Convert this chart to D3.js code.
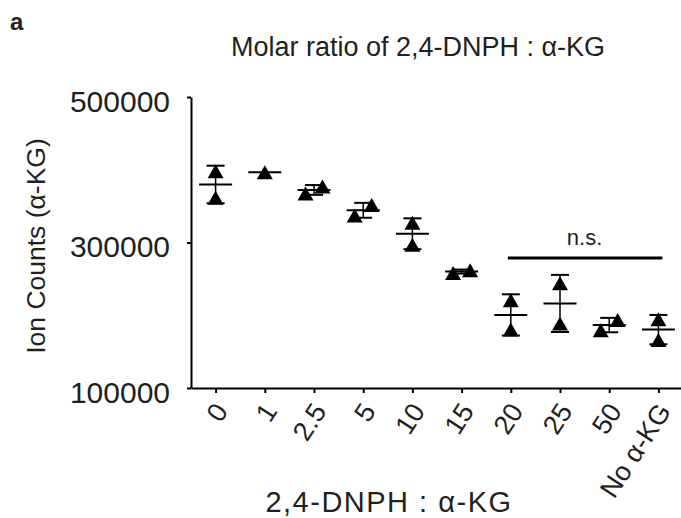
<!DOCTYPE html>
<html>
<head>
<meta charset="utf-8">
<script src="https://cdn.jsdelivr.net/npm/d3@7"></script>
<style>
  body { margin: 0; background: #fff; }
  text { font-family: "Liberation Sans", Arial, sans-serif; fill: #231f20; }
</style>
</head>
<body>
<div id="chart"></div>
<script>
// ratio categories and the two replicate ion counts (null = missing)
var categories = ["0", "1", "2.5", "5", "10", "15", "20", "25", "50", "No α-KG"];
var rep1 = [398000, 396500, 377000, 351500, 327000, 262000, 220500, 244000, 193500, 194500];
var rep2 = [361500, null, 367500, 337000, 297000, 258000, 180500, 188500, 179500, 166000];
var yTicks = [100000, 300000, 500000];
var nsFrom = "20", nsTo = "No α-KG";

var w = 681, h = 518;

var svg = d3.select("#chart").append("svg")
  .attr("width", w)
  .attr("height", h);

var x = d3.scalePoint()
  .domain(categories)
  .range([191, 683])
  .padding(0.5);

var y = d3.scaleLinear()
  .domain([100000, 500000])
  .range([388, 97]);

// build groups of replicate values
var groups = categories.map(function(c, i) {
  var vals = [rep1[i], rep2[i]].filter(function(v) { return v != null; });
  return { cat: c, vals: vals, mean: d3.mean(vals), sd: d3.deviation(vals) };
});

// axes
var yAxis = svg.append("g")
  .attr("transform", "translate(191,0)")
  .call(d3.axisLeft(y).tickValues(yTicks).tickSize(4).tickSizeOuter(0).tickPadding(17).tickFormat(d3.format("d")));
yAxis.select(".domain").attr("stroke", "#000").attr("stroke-width", 2);
yAxis.selectAll(".tick line").attr("stroke", "#000").attr("stroke-width", 2);
yAxis.selectAll(".tick text")
  .attr("font-size", 30)
  .attr("font-family", null)
  .attr("dy", "0.48em")
  .attr("fill", "#231f20");

var xAxis = svg.append("g")
  .attr("transform", "translate(0,388)")
  .call(d3.axisBottom(x).tickSize(5).tickSizeOuter(0));
xAxis.select(".domain").attr("stroke", "#000").attr("stroke-width", 2);
xAxis.selectAll(".tick line").attr("stroke", "#000").attr("stroke-width", 2);
xAxis.selectAll(".tick text")
  .attr("font-size", 27)
  .attr("font-family", null)
  .attr("fill", "#231f20")
  .attr("text-anchor", "end")
  .attr("dy", "0.35em")
  .attr("transform", "translate(5,18) rotate(-57)")
  .attr("x", 0)
  .attr("y", 0);

// mean and SD
var g = svg.selectAll("g.grp")
  .data(groups)
  .enter()
  .append("g")
  .attr("class", "grp")
  .attr("transform", function(d) { return "translate(" + x(d.cat) + ",0)"; });

g.append("line")
  .attr("x1", -16.5).attr("x2", 16.5)
  .attr("y1", function(d) { return y(d.mean); })
  .attr("y2", function(d) { return y(d.mean); })
  .attr("stroke", "#000").attr("stroke-width", 2);

var eb = g.filter(function(d) { return d.sd != null; });
eb.append("line")
  .attr("x1", 0).attr("x2", 0)
  .attr("y1", function(d) { return y(d.mean + d.sd); })
  .attr("y2", function(d) { return y(d.mean - d.sd); })
  .attr("stroke", "#000").attr("stroke-width", 1.5);
eb.selectAll("line.cap")
  .data(function(d) { return [d.mean + d.sd, d.mean - d.sd]; })
  .enter()
  .append("line")
  .attr("class", "cap")
  .attr("x1", -9).attr("x2", 9)
  .attr("y1", function(v) { return y(v); })
  .attr("y2", function(v) { return y(v); })
  .attr("stroke", "#000").attr("stroke-width", 2);

// points, jittered sideways when they overlap
var tri = "M0,-7L8,7L-8,7Z";
g.selectAll("path.pt")
  .data(function(d) {
    var s = d.vals.slice().sort(d3.ascending);
    var overlap = s.length > 1 && Math.abs(y(s[0]) - y(s[1])) < 14;
    return s.map(function(v, k) {
      return { v: v, dx: overlap ? (k === 0 ? -8.5 : 8.5) : 0 };
    });
  })
  .enter()
  .append("path")
  .attr("class", "pt")
  .attr("d", tri)
  .attr("fill", "#000")
  .attr("transform", function(p) { return "translate(" + p.dx + "," + y(p.v) + ")"; });

// significance bar
svg.append("line")
  .attr("x1", x(nsFrom) - 3).attr("x2", x(nsTo) + 4)
  .attr("y1", 258).attr("y2", 258)
  .attr("stroke", "#000").attr("stroke-width", 3);
svg.append("text")
  .attr("x", (x(nsFrom) + x(nsTo)) / 2)
  .attr("y", 245)
  .attr("text-anchor", "middle")
  .attr("font-size", 22)
  .text("n.s.");

// titles
svg.append("text")
  .attr("x", 10).attr("y", 30)
  .attr("font-size", 24)
  .attr("font-weight", "bold")
  .text("a");

svg.append("text")
  .attr("x", 418).attr("y", 56)
  .attr("text-anchor", "middle")
  .attr("font-size", 27)
  .text("Molar ratio of 2,4-DNPH : α-KG");

svg.append("text")
  .attr("transform", "translate(45,246) rotate(-90)")
  .attr("text-anchor", "middle")
  .attr("font-size", 26.5)
  .text("Ion Counts (α-KG)");

svg.append("text")
  .attr("x", 389).attr("y", 512)
  .attr("text-anchor", "middle")
  .attr("font-size", 29)
  .attr("letter-spacing", 1.5)
  .text("2,4-DNPH : α-KG");
</script>
</body>
</html>
